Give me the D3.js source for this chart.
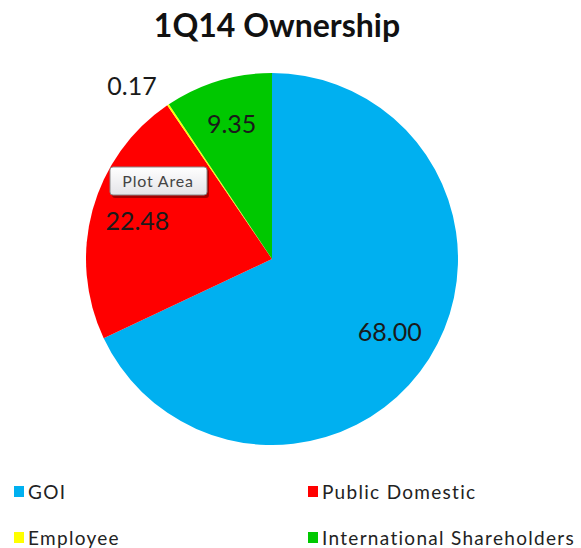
<!DOCTYPE html>
<html lang="en">
<head>
<meta charset="UTF-8">
<title>1Q14 Ownership</title>
<script src="https://d3js.org/d3.v7.min.js"></script>
<style>
    body { margin: 0; background: #fff; font-family: Lato, "Open Sans", sans-serif; }
    svg { display: block; }
</style>
</head>
<body>
<svg id="chart" width="581" height="548"></svg>
<script>
    const categories = ["GOI", "Public Domestic", "Employee", "International Shareholders"];
    const shares = [68.00, 22.48, 0.17, 9.35];
    const sliceColors = ["#00b0f0", "#ff0000", "#ffff00", "#00c800"];
    const chartTitle = "1Q14 Ownership";

    const svg = d3.select("#chart");
    const cx = 272, cy = 259, radius = 186;

    const data = categories.map((c, i) => ({ name: c, value: shares[i], color: sliceColors[i] }));

    // title
    svg.append("text")
        .attr("x", 277)
        .attr("y", 37)
        .attr("text-anchor", "middle")
        .attr("font-size", "32px")
        .attr("font-weight", "bold")
        .attr("fill", "#111")
        .text(chartTitle);

    const pie = d3.pie().sort(null).value(d => d.value);
    const arcs = pie(data);
    const arc = d3.arc().innerRadius(0).outerRadius(radius);
    const labelArc = d3.arc().innerRadius(radius * 0.75).outerRadius(radius * 0.75);
    const outerArc = d3.arc().innerRadius(radius * 1.11).outerRadius(radius * 1.11);

    const g = svg.append("g").attr("transform", `translate(${cx},${cy})`);

    g.selectAll("path")
        .data(arcs)
        .enter()
        .append("path")
        .attr("d", arc)
        .attr("fill", d => d.data.color);

    // data labels - tiny slices go outside
    g.selectAll("text.lbl")
        .data(arcs)
        .enter()
        .append("text")
        .attr("class", "lbl")
        .attr("transform", d => {
            const c = d.data.value < 1 ? outerArc.centroid(d) : labelArc.centroid(d);
            return `translate(${c})`;
        })
        .attr("dy", "0.3em")
        .attr("text-anchor", d => d.data.value < 1 ? "end" : "middle")
        .attr("font-size", "25px")
        .attr("fill", "#1a1a1a")
        .text(d => d3.format(".2f")(d.data.value));

    // "Plot Area" hover box
    const tip = svg.append("g").attr("transform", "translate(110,167)");
    const grad = svg.append("defs").append("linearGradient")
        .attr("id", "tipGrad").attr("x1", 0).attr("y1", 0).attr("x2", 0).attr("y2", 1);
    grad.append("stop").attr("offset", "0%").attr("stop-color", "#ffffff");
    grad.append("stop").attr("offset", "100%").attr("stop-color", "#e4e4e8");
    tip.append("rect")
        .attr("x", 2).attr("y", 2)
        .attr("width", 97).attr("height", 29)
        .attr("rx", 3)
        .attr("fill", "rgba(0,0,0,0.35)");
    tip.append("rect")
        .attr("width", 97).attr("height", 28)
        .attr("rx", 3)
        .attr("fill", "url(#tipGrad)")
        .attr("stroke", "#8a8a8a");
    tip.append("text")
        .attr("x", 48).attr("y", 20)
        .attr("text-anchor", "middle")
        .attr("font-size", "16px")
        .attr("letter-spacing", "0.8px")
        .attr("fill", "#444")
        .text("Plot Area");

    // legend
    const legendX = [14, 308];
    const legendY = [492, 538];
    const legend = svg.selectAll("g.legend")
        .data(data)
        .enter()
        .append("g")
        .attr("class", "legend")
        .attr("transform", (d, i) => `translate(${legendX[i % 2]},${legendY[Math.floor(i / 2)]})`);
    legend.append("rect")
        .attr("x", 0).attr("y", -6)
        .attr("width", 10).attr("height", 11)
        .attr("fill", d => d.color);
    legend.append("text")
        .attr("x", 14).attr("y", 0)
        .attr("dy", "0.36em")
        .attr("font-size", "19px")
        .attr("letter-spacing", "1.3px")
        .attr("fill", "#222")
        .text(d => d.name);
</script>
</body>
</html>
